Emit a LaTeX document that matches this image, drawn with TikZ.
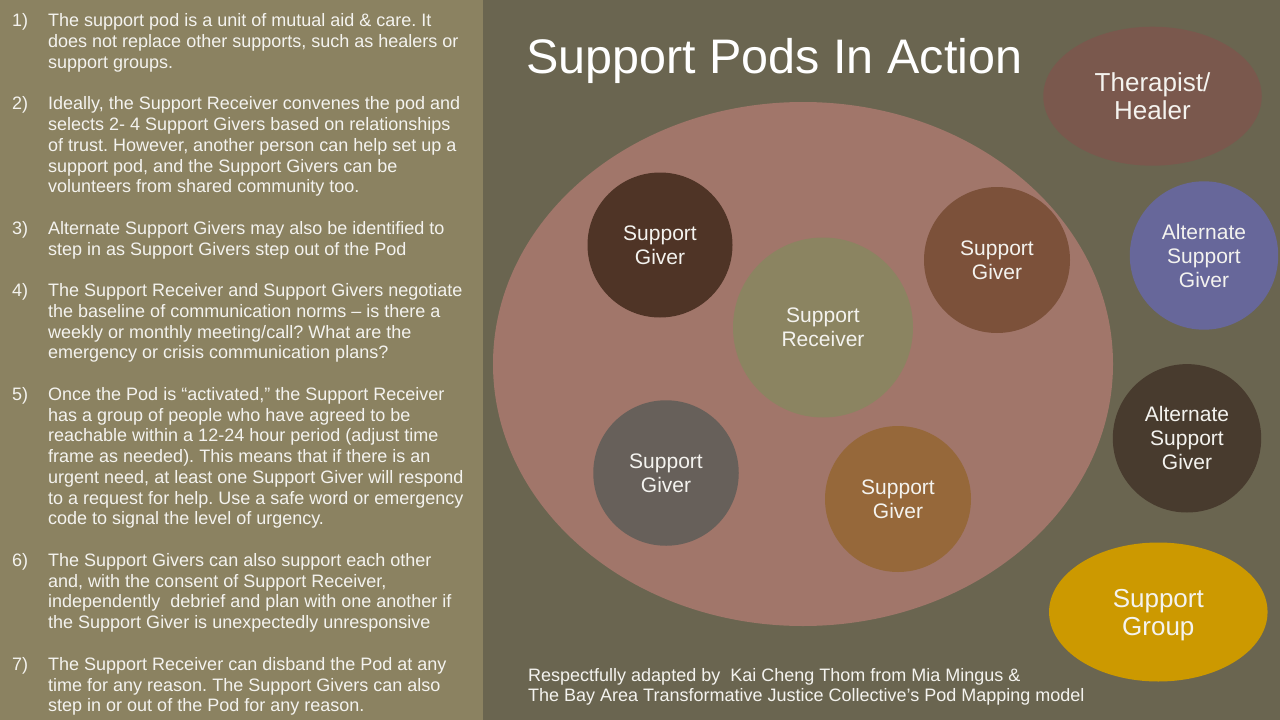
\documentclass[tikz,border=0pt]{standalone}
\usepackage{fontspec}
\setmainfont{Liberation Sans}
\usetikzlibrary{shapes.geometric}
\definecolor{bgright}{HTML}{6A6550}
\definecolor{bgleft}{HTML}{8B8261}
\definecolor{podfill}{HTML}{A1766A}
\definecolor{giverA}{HTML}{4F3426}
\definecolor{giverB}{HTML}{7C513A}
\definecolor{giverC}{HTML}{67605A}
\definecolor{giverD}{HTML}{96683A}
\definecolor{receiver}{HTML}{8B8461}
\definecolor{therapist}{HTML}{7A584D}
\definecolor{altA}{HTML}{67679A}
\definecolor{altB}{HTML}{483B2E}
\definecolor{group}{HTML}{CC9900}
\definecolor{offwhite}{HTML}{F4F3EF}
\frenchspacing
\begin{document}
\begin{tikzpicture}[x=1pt,y=1pt,
  lefttxt/.style={text=offwhite, inner sep=0pt, anchor=base west, font=\fontsize{18}{20.76}\selectfont},
  bubble/.style={circle, inner sep=0pt, minimum size=#1, text=offwhite, align=center, font=\fontsize{21}{24}\selectfont},
  oval/.style={ellipse, inner sep=0pt, minimum width=218.5pt, minimum height=139pt, text=offwhite, align=center, font=\fontsize{26}{28}\selectfont}]
\useasboundingbox (0,0) rectangle (1280,-720);
\fill[bgright] (0,0) rectangle (1280,-720);
\fill[bgleft] (0,0) rectangle (483,-720);

% left panel text
\foreach \t [count=\i] in {
 {The support pod is a unit of mutual aid \& care. It},
 {does not replace other supports, such as healers or},
 {support groups.},
 {},
 {Ideally, the Support Receiver convenes the pod and},
 {selects 2- 4 Support Givers based on relationships},
 {of trust. However, another person can help set up a},
 {support pod, and the Support Givers can be},
 {volunteers from shared community too.},
 {},
 {Alternate Support Givers may also be identified to},
 {step in as Support Givers step out of the Pod},
 {},
 {The Support Receiver and Support Givers negotiate},
 {the baseline of communication norms – is there a},
 {weekly or monthly meeting/call? What are the},
 {emergency or crisis communication plans?},
 {},
 {Once the Pod is “activated,” the Support Receiver},
 {has a group of people who have agreed to be},
 {reachable within a 12-24 hour period (adjust time},
 {frame as needed). This means that if there is an},
 {urgent need, at least one Support Giver will respond},
 {to a request for help. Use a safe word or emergency},
 {code to signal the level of urgency.},
 {},
 {The Support Givers can also support each other},
 {and, with the consent of Support Receiver,},
 {independently\ \ debrief and plan with one another if},
 {the Support Giver is unexpectedly unresponsive},
 {},
 {The Support Receiver can disband the Pod at any},
 {time for any reason. The Support Givers can also},
 {step in or out of the Pod for any reason.}}
  \node[lefttxt] (line\i) at (48, {-26.7-(\i-1)*20.76}) {\t};
\foreach \n/\l in {1/1,2/5,3/11,4/14,5/19,6/27,7/32}
  \node[lefttxt] (num\n) at (12, {-26.7-(\l-1)*20.76}) {\n)};

% title
\node[text=white, inner sep=0pt, anchor=base west, font=\fontsize{48.5}{55}\selectfont] (title) at (526,-73) {Support Pods In Action};

% pod
\node[ellipse, fill=podfill, inner sep=0pt, minimum width=620pt, minimum height=524pt] (pod) at (803,-364) {};

\node[bubble=145pt, fill=giverA] (g1) at (660,-245) {Support\\Giver};
\node[bubble=146pt, fill=giverB] (g2) at (997,-260) {Support\\Giver};
\node[bubble=180pt, fill=receiver] (recv) at (823,-327.5) {Support\\Receiver};
\node[bubble=145.5pt, fill=giverC] (g3) at (666,-473) {Support\\Giver};
\node[bubble=146pt, fill=giverD] (g4) at (898,-499) {Support\\Giver};

% outside supports
\node[oval, fill=therapist] (healer) at (1152.5,-96.2) {Therapist/\\Healer};
\node[bubble=148.4pt, fill=altA] (alt1) at (1204,-255.5) {Alternate\\Support\\Giver};
\node[bubble=148.4pt, fill=altB] (alt2) at (1187,-438.3) {Alternate\\Support\\Giver};
\node[oval, fill=group, text depth=0pt] (sgroup) at (1158.3,-612) {Support\\Group};

% footer
\node[lefttxt] (foot1) at (528,-681.7) {Respectfully adapted by\ \ Kai Cheng Thom from Mia Mingus \&};
\node[lefttxt] (foot2) at (528,-701.7) {The Bay Area Transformative Justice Collective’s Pod Mapping model};
\end{tikzpicture}
\end{document}
